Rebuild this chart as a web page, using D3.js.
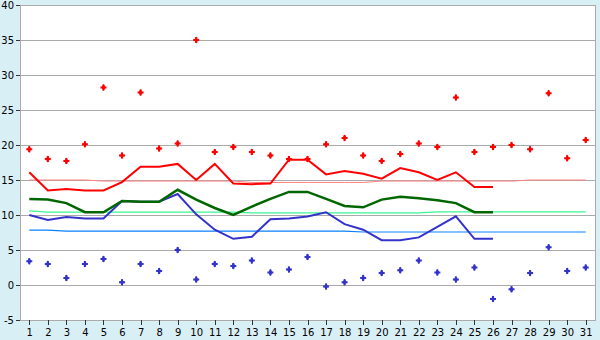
<!DOCTYPE html>
<html>
<head>
<meta charset="utf-8">
<script src="https://cdn.jsdelivr.net/npm/d3@7"></script>
<style>
body { margin: 0; background: #d9eff6; }
svg { display: block; font-family: "DejaVu Sans", sans-serif; }
</style>
</head>
<body>
<svg></svg>
<script>
// days of the month
const days = [1,2,3,4,5,6,7,8,9,10,11,12,13,14,15,16,17,18,19,20,21,22,23,24,25,26,27,28,29,30,31];
const yTicks = [-5,0,5,10,15,20,25,30,35,40];

// daily extremes (points)
const maxPts = [19.4,18.0,17.7,20.1,28.2,18.5,27.5,19.5,20.2,35.0,19.0,19.7,19.0,18.5,18.0,18.0,20.1,21.0,18.5,17.7,18.7,20.2,19.7,26.8,19.0,19.7,20.0,19.4,27.4,18.1,20.7];
const minPts = [3.4,3.0,1.0,3.0,3.7,0.4,3.0,2.0,5.0,0.8,3.0,2.7,3.5,1.8,2.2,4.0,-0.2,0.4,1.0,1.7,2.1,3.5,1.8,0.8,2.5,-2.0,-0.6,1.7,5.4,2.0,2.5];

// running lines (first 26 days)
const redLine   = [16.1,13.5,13.7,13.5,13.5,14.7,16.9,16.9,17.3,15.0,17.3,14.5,14.4,14.5,17.9,17.9,15.8,16.3,15.9,15.2,16.7,16.1,15.0,16.1,14.0,14.0];
const greenLine = [12.3,12.2,11.7,10.4,10.4,12.0,11.9,11.9,13.6,12.2,11.0,10.0,11.2,12.3,13.3,13.3,12.3,11.3,11.1,12.2,12.6,12.4,12.1,11.7,10.4,10.4];
const blueLine  = [10.0,9.3,9.7,9.5,9.5,12.0,11.9,11.9,13.0,10.1,7.9,6.6,6.9,9.4,9.5,9.8,10.4,8.7,7.9,6.4,6.4,6.8,8.3,9.8,6.6,6.6];

// normals
const normMax  = [15.0,15.0,15.0,15.0,14.85,14.85,14.85,14.85,14.85,14.85,14.85,14.85,14.65,14.65,14.65,14.65,14.65,14.65,14.65,14.85,14.85,14.85,14.85,14.85,14.85,14.85,14.85,15.0,15.0,15.0,15.0];
const normMean = [10.6,10.4,10.4,10.4,10.4,10.4,10.4,10.4,10.4,10.4,10.4,10.4,10.3,10.3,10.3,10.3,10.3,10.3,10.3,10.3,10.3,10.3,10.45,10.45,10.45,10.45,10.45,10.45,10.45,10.45,10.45];
const normMin  = [7.85,7.85,7.7,7.7,7.7,7.7,7.7,7.7,7.7,7.7,7.7,7.7,7.7,7.7,7.7,7.7,7.7,7.7,7.57,7.57,7.57,7.57,7.57,7.57,7.57,7.57,7.57,7.57,7.57,7.57,7.57];

const W = 600, H = 340;
const pLeft = 20, pRight = 595, pTop = 5, pBottom = 320;

const svg = d3.select('svg')
  .attr('width', W)
  .attr('height', H);

svg.append('rect')
  .attr('x', 0).attr('y', 0).attr('width', W).attr('height', H)
  .attr('fill', '#d9eff6');

svg.append('rect')
  .attr('x', pLeft).attr('y', pTop)
  .attr('width', pRight - pLeft).attr('height', pBottom - pTop)
  .attr('fill', '#ffffff');

const x = d3.scalePoint().domain(days).range([pLeft, pRight]).padding(0.5);
const y = d3.scaleLinear().domain([-5, 40]).range([pBottom, pTop]);

// gridlines
svg.append('g')
  .selectAll('line')
  .data(yTicks)
  .enter()
  .append('line')
  .attr('x1', pLeft).attr('x2', pRight)
  .attr('y1', d => y(d)).attr('y2', d => y(d))
  .attr('stroke', '#aaaaaa')
  .attr('shape-rendering', 'crispEdges');

// right border
svg.append('line')
  .attr('x1', pRight).attr('x2', pRight).attr('y1', pTop).attr('y2', pBottom)
  .attr('stroke', '#aaaaaa').attr('shape-rendering', 'crispEdges');

// axes
const yAxis = svg.append('g')
  .attr('transform', `translate(${pLeft},0)`)
  .call(d3.axisLeft(y).tickValues(yTicks).tickFormat(d => String(d))
    .tickSizeInner(4).tickSizeOuter(0).tickPadding(2));

const xAxis = svg.append('g')
  .attr('transform', `translate(0,${pBottom})`)
  .call(d3.axisBottom(x).tickSizeInner(5).tickSizeOuter(0).tickPadding(4));

[yAxis, xAxis].forEach(ax => {
  ax.select('.domain').attr('stroke', '#aaaaaa').attr('shape-rendering', 'crispEdges');
  ax.selectAll('.tick line').attr('stroke', '#333333').attr('shape-rendering', 'crispEdges');
  ax.selectAll('.tick text')
    .attr('fill', '#000000')
    .style('font-size', '10px')
    .style('font-family', '"DejaVu Sans", sans-serif');
});

const line = d3.line()
  .x((d, i) => x(days[i]))
  .y(d => y(d));

// normals
svg.append('path').datum(normMax).attr('d', line)
  .attr('fill', 'none').attr('stroke', '#ff8080').attr('stroke-width', 1);
svg.append('path').datum(normMean).attr('d', line)
  .attr('fill', 'none').attr('stroke', '#3cf594').attr('stroke-width', 1.2);
svg.append('path').datum(normMin).attr('d', line)
  .attr('fill', 'none').attr('stroke', '#0a80ff').attr('stroke-width', 1.2);

// running lines
svg.append('path').datum(blueLine).attr('d', line)
  .attr('fill', 'none').attr('stroke', '#3333cc').attr('stroke-width', 2);
svg.append('path').datum(greenLine).attr('d', line)
  .attr('fill', 'none').attr('stroke', '#006600').attr('stroke-width', 2.5);
svg.append('path').datum(redLine).attr('d', line)
  .attr('fill', 'none').attr('stroke', '#ff0000').attr('stroke-width', 2);

// points: a plus with filled centre
const cross = d3.symbol().type(d3.symbolCross).size(20);
const diamond = d3.symbol().type(d3.symbolDiamond).size(14);

function drawPoints(vals, color) {
  const g = svg.append('g')
    .selectAll('g')
    .data(vals)
    .enter()
    .append('g')
    .attr('transform', (d, i) => `translate(${x(days[i])},${y(d)})`)
    .attr('fill', color);
  g.append('path').attr('d', cross);
  g.append('path').attr('d', diamond);
}

drawPoints(maxPts, '#ff0000');
drawPoints(minPts, '#3333cc');
</script>
</body>
</html>
